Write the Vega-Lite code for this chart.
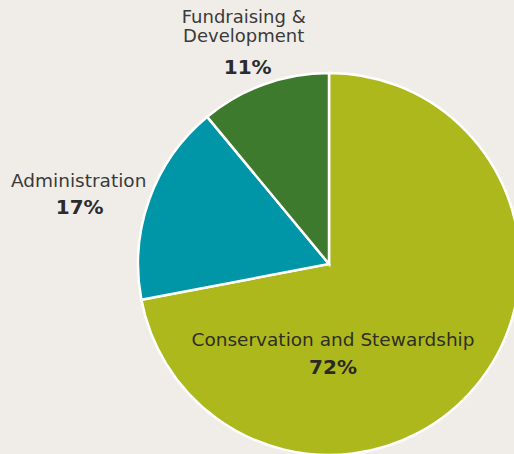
{
  "$schema": "https://vega.github.io/schema/vega-lite/v6.json",
  "width": 514,
  "height": 454,
  "autosize": "none",
  "padding": 0,
  "background": "#f0ede8",
  "config": {"view": {"stroke": null}},
  "data": {
    "values": [
      {"category": "Conservation and Stewardship", "label": "Conservation and Stewardship", "share": 0.72, "order": 1},
      {"category": "Administration", "label": "Administration", "share": 0.17, "order": 2},
      {"category": "Fundraising & Development", "label": "Fundraising &\nDevelopment", "share": 0.11, "order": 3}
    ]
  },
  "encoding": {
    "theta": {"field": "share", "type": "quantitative", "stack": true},
    "order": {"field": "order", "type": "ordinal"}
  },
  "layer": [
    {
      "mark": {"type": "arc", "x": 329, "y": 264, "outerRadius": 191, "stroke": "#ffffff", "strokeWidth": 2.5},
      "encoding": {
        "color": {
          "field": "category", "type": "nominal", "legend": null,
          "scale": {
            "domain": ["Conservation and Stewardship", "Administration", "Fundraising & Development"],
            "range": ["#adb81d", "#0096a8", "#3e7a2e"]
          }
        }
      }
    },
    {
      "mark": {"type": "text", "x": 329, "y": 264, "radius": 0, "dx": 4, "dy": 76, "font": "DejaVu Sans", "fontSize": 18.5, "color": "#2f2f22", "align": "center", "baseline": "middle"},
      "encoding": {"text": {"condition": {"test": "datum.category === 'Conservation and Stewardship'", "field": "label"}, "value": ""}}
    },
    {
      "mark": {"type": "text", "x": 329, "y": 264, "radius": 0, "dx": 4, "dy": 104, "font": "DejaVu Sans", "fontWeight": "bold", "fontSize": 20, "color": "#2a2a22", "align": "center", "baseline": "middle"},
      "encoding": {"text": {"condition": {"test": "datum.category === 'Conservation and Stewardship'", "field": "share", "format": ".0%"}, "value": ""}}
    },
    {
      "mark": {"type": "text", "x": 329, "y": 264, "radius": 265, "dx": -1, "dy": 7, "font": "DejaVu Sans", "fontSize": 18.5, "color": "#3a3a3a", "align": "center", "baseline": "middle"},
      "encoding": {"text": {"condition": {"test": "datum.category === 'Administration'", "field": "label"}, "value": ""}}
    },
    {
      "mark": {"type": "text", "x": 329, "y": 264, "radius": 265, "dx": 0, "dy": 34, "font": "DejaVu Sans", "fontWeight": "bold", "fontSize": 20, "color": "#2b2b2b", "align": "center", "baseline": "middle"},
      "encoding": {"text": {"condition": {"test": "datum.category === 'Administration'", "field": "share", "format": ".0%"}, "value": ""}}
    },
    {
      "mark": {"type": "text", "x": 329, "y": 264, "radius": 240, "dx": -4, "dy": -20, "font": "DejaVu Sans", "fontSize": 18, "lineHeight": 19, "lineBreak": "\n", "color": "#3a3a3a", "align": "center", "baseline": "middle"},
      "encoding": {"text": {"condition": {"test": "datum.category === 'Fundraising & Development'", "field": "label"}, "value": ""}}
    },
    {
      "mark": {"type": "text", "x": 329, "y": 264, "radius": 240, "dx": 0, "dy": 30, "font": "DejaVu Sans", "fontWeight": "bold", "fontSize": 20, "color": "#2b2b2b", "align": "center", "baseline": "middle"},
      "encoding": {"text": {"condition": {"test": "datum.category === 'Fundraising & Development'", "field": "share", "format": ".0%"}, "value": ""}}
    }
  ]
}
